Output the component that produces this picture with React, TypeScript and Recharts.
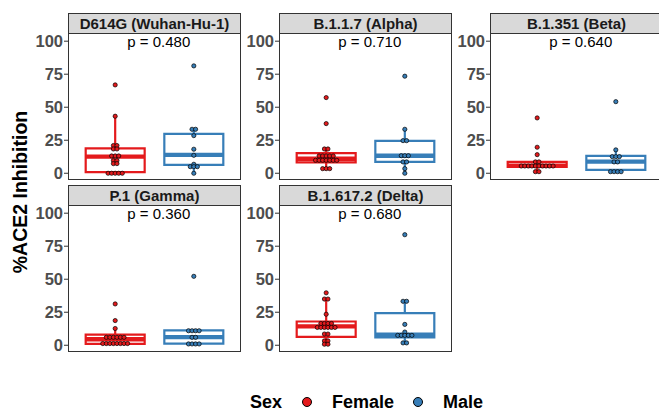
import {
  ComposedChart,
  ReferenceArea,
  ReferenceDot,
  ReferenceLine,
  Scatter,
  XAxis,
  YAxis,
} from "recharts";

const variants = [
  "D614G (Wuhan-Hu-1)",
  "B.1.1.7 (Alpha)",
  "B.1.351 (Beta)",
  "P.1 (Gamma)",
  "B.1.617.2 (Delta)",
];
const pValues = ["p = 0.480", "p = 0.710", "p = 0.640", "p = 0.360", "p = 0.680"];

const sexes = ["Female", "Male"];
const sexColors = ["#E41A1C", "#377EB8"];
const yTicks = [0, 25, 50, 75, 100];

// individual % inhibition values per variant
const femaleValues = [
  [66.9, 43.2, 21, 21, 18.4, 18.4, 13.1, 13.1, 13.1, 9.6, 9.6, 7.3, 7.3, 0, 0, 0, 0, 0],
  [57.3, 37.6, 18.4, 18.4, 13.1, 13.1, 13.1, 13.1, 13.1, 9.8, 9.8, 9.8, 9.8, 9.8, 9.8, 9.8, 3.5, 3.5, 3.5],
  [41.9, 19.7, 14.1, 8.6, 8.6, 5.5, 5.5, 5.5, 5.5, 5.5, 5.5, 5.5, 5.5, 5.5, 5.5, 1.2, 1.2],
  [31.3, 18.7, 12.7, 6, 6, 6, 6, 6, 6, 1.3, 1.3, 1.3, 1.3, 1.3, 1.3, 1.3, 1.3],
  [39.7, 35, 35, 23.5, 16.5, 16.5, 16.5, 16.5, 13.5, 13.5, 13.5, 13.5, 13.5, 13.5, 8.5, 8.5, 3.3, 3.3, 0.8, 0.8],
];
const maleValues = [
  [81.3, 33.3, 33.3, 28.5, 18.2, 13.6, 6.8, 5, 5, 5, 0],
  [73.5, 33.3, 24.7, 24.7, 13.3, 13.3, 13.3, 8.6, 8.6, 3.5, 0],
  [54.2, 17.7, 12.6, 12.6, 12.6, 8.6, 8.6, 1.2, 1.2, 1.2, 1.2],
  [52.2, 11, 11, 11, 11, 6, 6, 1, 1, 1, 1],
  [83.7, 33.3, 33.3, 15.8, 10, 7.5, 7.5, 7.5, 7.5, 7.5, 1.8, 1.8],
];

// box stats: [lower whisker, q1, median, q3, upper whisker]
const femaleBoxes = [
  [0, 0.8, 12.6, 18.9, 43.2],
  [3.5, 8.2, 11, 15.2, 18.4],
  [1.2, 4.8, 5.8, 8.6, 8.6],
  [1, 1, 4.5, 8, 12.7],
  [0.8, 6.3, 14.3, 18, 35],
];
const maleBoxes = [
  [0, 6.3, 13.9, 29.8, 33.3],
  [0, 8.6, 13.3, 24.5, 33.3],
  [1.2, 2.5, 8.8, 13.2, 17.7],
  [1, 1.3, 6.2, 11.3, 11.3],
  [1.8, 6, 8, 24.3, 33.3],
];

const FONT = '"Liberation Sans", Arial, Helvetica, sans-serif';
const PANEL_W = 173;
const PANEL_H = 147;
const AXIS_W = 40;
const PAD = 12;
const DOT_STEP = 0.045;
const BOX_HALF = 0.375;

// spread equal values side by side, like a centred dotplot
function dotRows(values: number[], cat: number) {
  const counts = new Map<number, number>();
  values.forEach((v) => counts.set(v, (counts.get(v) || 0) + 1));
  const seen = new Map<number, number>();
  return values.map((v) => {
    const n = counts.get(v) || 1;
    const k = seen.get(v) || 0;
    seen.set(v, k + 1);
    return { x: cat + (k - (n - 1) / 2) * DOT_STEP, y: v };
  });
}

const dotShape = (color: string) => (props: any) =>
  <circle cx={props.cx} cy={props.cy} r={2.1} fill={color} stroke="#000" strokeWidth={0.7} />;

function boxParts(stats: number[], cat: number, color: string, key: string) {
  const [lo, q1, med, q3, hi] = stats;
  return [
    <ReferenceLine
      key={key + "wl"}
      segment={[{ x: cat, y: lo }, { x: cat, y: q1 }]}
      stroke={color}
      strokeWidth={2.2}
    />,
    <ReferenceLine
      key={key + "wh"}
      segment={[{ x: cat, y: q3 }, { x: cat, y: hi }]}
      stroke={color}
      strokeWidth={2.2}
    />,
    <ReferenceArea
      key={key + "box"}
      x1={cat - BOX_HALF}
      x2={cat + BOX_HALF}
      y1={q1}
      y2={q3}
      fill="#fff"
      fillOpacity={1}
      stroke={color}
      strokeWidth={2.2}
    />,
    <ReferenceLine
      key={key + "med"}
      segment={[{ x: cat - BOX_HALF, y: med }, { x: cat + BOX_HALF, y: med }]}
      stroke={color}
      strokeWidth={4.4}
    />,
  ];
}

const Panel = ({ i }: { i: number }) => {
  const col = i % 3;
  const row = Math.floor(i / 3);
  const left = 68 + col * 211;
  const top = row === 0 ? 33 : 205;
  return (
    <>
      <div
        style={{
          position: "absolute",
          left,
          top: top - 20,
          width: PANEL_W,
          height: 21,
          boxSizing: "border-box",
          background: "#D9D9D9",
          border: "1.3px solid #333",
          fontWeight: "bold",
          fontSize: 15,
          lineHeight: "19px",
          textAlign: "center",
          color: "#1a1a1a",
        }}
      >
        {variants[i]}
      </div>
      <div style={{ position: "absolute", left: left - AXIS_W, top }}>
        <ComposedChart
          width={PANEL_W + AXIS_W}
          height={PANEL_H + PAD}
          margin={{ top: 0, right: 0, left: 0, bottom: PAD }}
        >
          <XAxis type="number" dataKey="x" domain={[0.4, 2.6]} hide />
          <YAxis
            type="number"
            dataKey="y"
            width={AXIS_W}
            domain={[-5.1, 106.2]}
            ticks={yTicks}
            interval={0}
            allowDataOverflow
            axisLine={false}
            tickSize={4}
            tickMargin={1}
            tickLine={{ stroke: "#333" }}
            tick={{ fill: "#4D4D4D", fontSize: 16.5, fontWeight: "bold", fontFamily: FONT }}
          />
          {boxParts(femaleBoxes[i], 1, sexColors[0], "f")}
          {boxParts(maleBoxes[i], 2, sexColors[1], "m")}
          <Scatter
            name={sexes[0]}
            data={dotRows(femaleValues[i], 1)}
            shape={dotShape(sexColors[0])}
            isAnimationActive={false}
          />
          <Scatter
            name={sexes[1]}
            data={dotRows(maleValues[i], 2)}
            shape={dotShape(sexColors[1])}
            isAnimationActive={false}
          />
          <ReferenceDot
            x={1.555}
            y={100}
            r={0}
            fill="none"
            stroke="none"
            label={{ value: pValues[i], position: "center", fill: "#000", fontSize: 15, fontFamily: FONT }}
          />
        </ComposedChart>
      </div>
      <div
        style={{
          position: "absolute",
          left,
          top,
          width: PANEL_W,
          height: PANEL_H,
          boxSizing: "border-box",
          border: "1.3px solid #333",
          pointerEvents: "none",
        }}
      />
    </>
  );
};

const LegendDot = ({ color }: { color: string }) => (
  <span
    style={{
      display: "inline-block",
      width: 10,
      height: 10,
      borderRadius: "50%",
      background: color,
      border: "1px solid #000",
      boxSizing: "border-box",
    }}
  />
);

const App = () => {
  return (
    <div
      style={{
        position: "absolute",
        left: 0,
        top: 0,
        width: 659,
        height: 410,
        overflow: "hidden",
        background: "#fff",
        fontFamily: FONT,
      }}
    >
      {variants.map((_, i) => (
        <Panel key={i} i={i} />
      ))}
      <div
        style={{
          position: "absolute",
          left: 20,
          top: 192,
          transform: "translate(-50%, -50%) rotate(-90deg)",
          whiteSpace: "nowrap",
          fontWeight: "bold",
          fontSize: 19.5,
          color: "#000",
        }}
      >
        %ACE2 Inhibition
      </div>
      <div
        style={{
          position: "absolute",
          left: 250,
          top: 391,
          height: 22,
          display: "flex",
          alignItems: "center",
          fontWeight: "bold",
          fontSize: 18,
          color: "#000",
          whiteSpace: "nowrap",
        }}
      >
        <span style={{ marginRight: 20 }}>Sex</span>
        <LegendDot color={sexColors[0]} />
        <span style={{ marginLeft: 20, marginRight: 19 }}>{sexes[0]}</span>
        <LegendDot color={sexColors[1]} />
        <span style={{ marginLeft: 20 }}>{sexes[1]}</span>
      </div>
    </div>
  );
};

export default App;
